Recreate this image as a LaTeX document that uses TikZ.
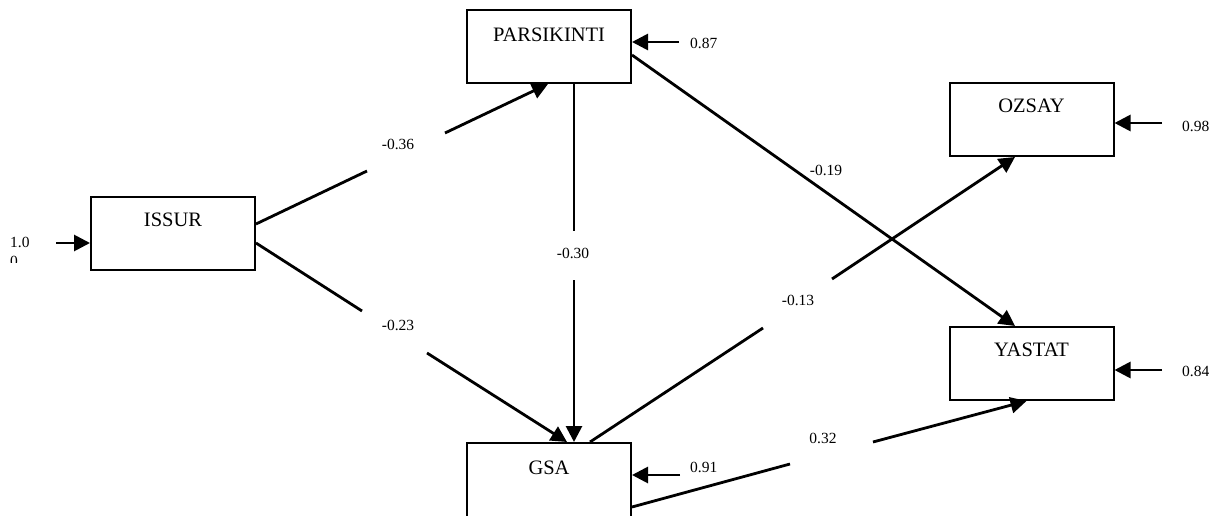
\documentclass[tikz,border=0pt]{standalone}
\usepackage{fontspec}
\setmainfont{Liberation Serif}
\usetikzlibrary{arrows.meta,calc}
\begin{document}
\begin{tikzpicture}[x=1pt,y=-1pt,
  box/.style={draw,line width=2pt,minimum width=164pt,minimum height=73pt,inner sep=0pt},
  vname/.style={font=\fontsize{20.5}{24}\selectfont,anchor=base,inner sep=0pt},
  coef/.style={font=\fontsize{15.5}{18}\selectfont,inner sep=0pt},
  conn/.style={line width=2.8pt},
  arr/.style={conn,-{Triangle[length=16pt,width=16pt]}},
]
\useasboundingbox (0,0) rectangle (1216,516);
\clip (0,0) rectangle (1216,516);
% boxes
\node[box] (issur) at (173,233.5) {};
\node[vname] (issurT) at (173,226.7) {ISSUR};
\node[box] (pars) at (549,46.5) {};
\node[vname] (parsT) at (549,41.7) {PARSIKINTI};
\node[box] (ozsay) at (1031.5,119.5) {};
\node[vname] (ozsayT) at (1031.5,112.7) {OZSAY};
\node[box] (yastat) at (1031.5,363.5) {};
\node[vname] (yastatT) at (1031.5,356.7) {YASTAT};
\node[box,minimum height=78pt] (gsa) at (549,482) {};
\node[vname] (gsaT) at (549,474) {GSA};
% ISSUR -> PARSIKINTI
\coordinate (g1a) at (367,171);
\coordinate (g1b) at (445,133);
\draw[conn] ($(issur.east)+(0,-9.5)$) -- (g1a);
\draw[arr] (g1b) -- ($(pars.south)+(-1,0)$);
\node[coef] (l1) at (398,144) {-0.36};
% ISSUR -> GSA
\coordinate (g2a) at (362,311);
\coordinate (g2b) at (427,353);
\draw[conn] ($(issur.east)+(0,9.5)$) -- (g2a);
\draw[arr] (g2b) -- ($(gsa.north)+(18,0)$);
\node[coef] (l2) at (398,325) {-0.23};
% PARSIKINTI -> GSA
\coordinate (g3a) at (574,231);
\coordinate (g3b) at (574,280);
\draw[conn] ($(pars.south)+(25,0)$) -- (g3a);
\draw[arr] (g3b) -- ($(gsa.north)+(25,0)$);
\node[coef] (l3) at (573,253) {-0.30};
% PARSIKINTI -> YASTAT
\draw[arr] ($(pars.east)+(0,8.5)$) -- ($(yastat.north)+(-16.5,0)$);
\node[coef] (l4) at (826,170) {-0.19};
% GSA -> OZSAY
\coordinate (g5a) at (763,328);
\coordinate (g5b) at (832,279);
\draw[conn] ($(gsa.north)+(41,0)$) -- (g5a);
\draw[arr] (g5b) -- ($(ozsay.south)+(-16.5,0)$);
\node[coef] (l5) at (798,300) {-0.13};
% GSA -> YASTAT
\coordinate (g6a) at (790,464);
\coordinate (g6b) at (873,442);
\draw[conn] ($(gsa.east)+(0,25)$) -- (g6a);
\draw[arr] (g6b) -- ($(yastat.south)+(-5,0)$);
\node[coef] (l6) at (823,438) {0.32};
% error terms
\coordinate (e0) at (56,243);
\draw[arr] (e0) -- ($(issur.west)+(0,9.5)$);
\node[coef,anchor=base west] (e0a) at (10,247) {1.0};
\begin{scope}
\clip (0,250) rectangle (45,262);
\node[coef,anchor=base west] (e0b) at (10,266) {0};
\end{scope}
\coordinate (e1) at (679,42);
\draw[arr] (e1) -- ($(pars.east)+(0,-4.5)$);
\node[coef,anchor=west] (e1l) at (690,43) {0.87};
\coordinate (e2) at (1162,123);
\draw[arr] (e2) -- ($(ozsay.east)+(0,3.5)$);
\node[coef,anchor=west] (e2l) at (1182,126) {0.98};
\coordinate (e3) at (1162,370);
\draw[arr] (e3) -- ($(yastat.east)+(0,6.5)$);
\node[coef,anchor=west] (e3l) at (1182,371) {0.84};
\coordinate (e4) at (680,475);
\draw[arr] (e4) -- ($(gsa.east)+(0,-7)$);
\node[coef,anchor=west] (e4l) at (690,467) {0.91};
\end{tikzpicture}
\end{document}
